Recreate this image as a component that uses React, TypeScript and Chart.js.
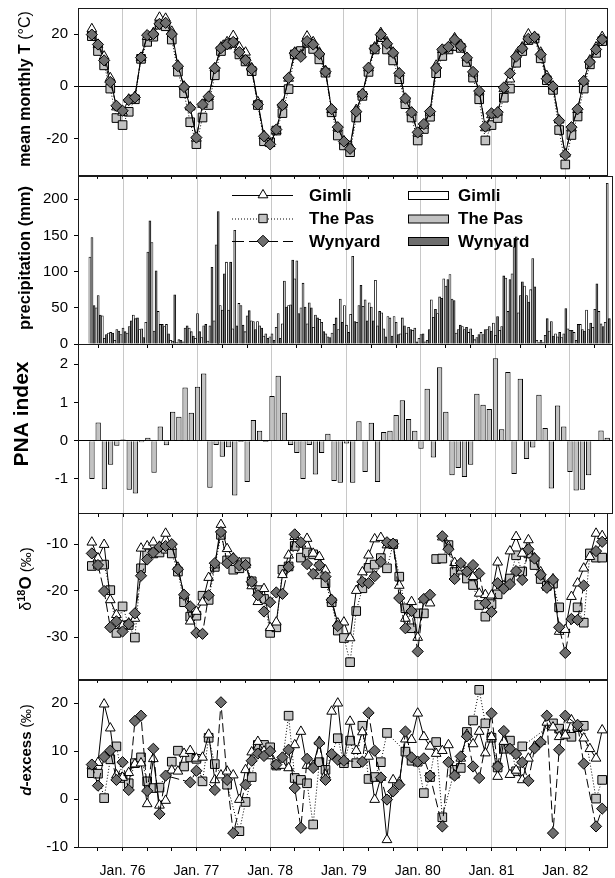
import React, { useEffect, useRef } from 'react';
import { Chart, registerables } from 'chart.js';

Chart.register(...registerables);

const FONT = '"Liberation Sans", Arial, Helvetica, sans-serif';
const GRID_COLOR = '#c8c8c8';

// months are counted from Jan 1976 (= 0); the series start in Aug 1975
const FIRST_MONTH = -5;
const X_MIN = -7.25;
const X_MAX = 78.93;
const X_TICKS = [-4, 0, 4, 8, 12, 16, 20, 24, 28, 32, 36, 40, 44, 48, 52, 56, 60, 64, 68, 72, 76];
const YEAR_LABELS = ['Jan. 76', 'Jan. 77', 'Jan. 78', 'Jan. 79', 'Jan. 80', 'Jan. 81', 'Jan. 82'];
const STATIONS = ['Gimli', 'The Pas', 'Wynyard'];

// ---- mean monthly temperature (°C) ----
const TEMP_GIMLI = [22, 16, 11.5, 3.2, -8,
  -10, -5, -4, 11, 19, 20.5, 26.4, 26, 21, 8, 0, -8,
  -20, -7, -4, 7, 15, 17, 19.4, 15, 13, 7, -6, -19,
  -22, -17, -7, 3, 13, 12, 19.2, 17, 13, 6, -9, -16,
  -21, -23, -9, -3, 7, 15, 20.5, 17, 13, 5, -5, -10,
  -18, -15, -10, 8, 14, 15, 18.5, 16, 11, 5, -2, -16,
  -11, -10, -1, 2.7, 12, 15, 20, 19, 13, 4, 0, -13,
  -26, -16, -9, 2, 10, 15, 19];
const TEMP_THEPAS = [19.2, 13.5, 8, -0.9, -12.2,
  -14.9, -9.8, -5, 10.5, 17, 19, 23.6, 23, 17.9, 5.6, -2.7, -13.8,
  -22.2, -12, -7.2, 4.2, 13.5, 16, 16.6, 12.2, 9.5, 5.8, -7.2, -21.1,
  -21.5, -17, -10.3, -1.1, 12.2, 13.5, 16.6, 14.3, 10.3, 5.2, -10, -18.9,
  -22.7, -25.3, -12, -3.7, 5.5, 14.1, 18.8, 14.1, 9.9, 2.7, -6.9, -12,
  -20.8, -16.4, -11.7, 5, 11.6, 14.1, 15.4, 14.7, 9.3, 3.3, -5, -20.8,
  -14.9, -12.2, -4.4, -0.9, 9, 13.5, 17.7, 18.3, 10.7, 2.3, -1.4, -16.8,
  -30, -18.7, -11.6, -0.9, 8.4, 12.8, 17.3];
const TEMP_WYNYARD = [19.8, 16, 9.9, 1.6, -7.5,
  -9.4, -5.3, -4.3, 11, 19.6, 20, 23.9, 24.3, 20, 7.7, -0.3, -8.3,
  -19.7, -7, -4, 6.9, 14.6, 16.1, 17, 13.1, 10, 6.6, -7, -19.2,
  -22.3, -16.6, -7.2, 3.2, 12.7, 11.3, 17.3, 16, 12.4, 5.6, -8.8, -15.7,
  -21.2, -24, -9.7, -3, 7.1, 14.5, 19.8, 16.3, 12.8, 5, -4.7, -10,
  -17.7, -14.5, -9.7, 7, 14.1, 15.1, 17.9, 15.4, 10.9, 5.5, -1.9, -15.5,
  -10.4, -10, -0.5, 4.9, 11.3, 14.5, 18.2, 18.9, 12.2, 2.9, -0.1, -13.2,
  -26.3, -15.7, -8.8, 2, 9.3, 14.1, 17.9];

// ---- monthly precipitation (mm) ----
const PRECIP_GIMLI = [120, 50, 39, 15, 5,
  13, 15, 40, 20, 30, 140, 45, 24, 5, 2, 3, 22,
  8, 9, 4, 32, 53, 113, 21, 56, 17, 32, 31, 11,
  10, 23, 28, 53, 90, 50, 28, 23, 34, 14, 15, 20,
  53, 41, 30, 52, 57, 88, 43, 38, 38, 14, 15, 19,
  8, 3, 61, 42, 90, 96, 15, 24, 16, 6, 16, 20,
  29, 19, 91, 97, 43, 80, 75, 5, 2, 18, 14, 9,
  21, 16, 27, 47, 23, 45, 30];
const PRECIP_THEPAS = [147, 67, 8, 16, 20,
  22, 24, 35, 21, 127, 18, 27, 27, 4, 6, 22, 17,
  42, 25, 25, 137, 47, 47, 157, 53, 39, 31, 25, 14,
  14, 42, 87, 54, 115, 84, 57, 40, 30, 10, 27, 62,
  26, 121, 53, 61, 51, 25, 21, 36, 30, 36, 23, 22,
  13, 5, 37, 65, 80, 62, 20, 20, 21, 9, 13, 24,
  12, 24, 45, 134, 67, 67, 118, 2, 12, 31, 10, 14,
  19, 5, 20, 20, 48, 28, 222];
const PRECIP_WYNYARD = [53, 40, 13, 15, 18,
  17, 32, 36, 9, 170, 101, 27, 14, 68, 5, 25, 11,
  17, 27, 106, 183, 97, 113, 25, 26, 46, 20, 22, 8,
  5, 8, 51, 116, 42, 51, 50, 36, 17, 9, 36, 30,
  16, 31, 81, 32, 32, 45, 10, 11, 13, 25, 20, 3,
  14, 20, 48, 63, 89, 60, 26, 23, 12, 13, 20, 18,
  38, 94, 89, 148, 86, 58, 79, 5, 35, 11, 16, 49,
  19, 27, 18, 29, 83, 24, 35];

// ---- PNA index ----
const PNA_INDEX = [-1.0, 0.48, -1.27, -0.63, -0.13,
  0.03, -1.28, -1.38, -0.04, 0.08, -0.84, 0.37, -0.12, 0.76, 0.63, 1.39, 0.73,
  1.41, 1.76, -1.23, -0.11, -0.42, -0.17, -1.43, -0.03, -1.08, 0.54, 0.26, -0.03,
  1.17, 1.7, 0.73, -0.11, -0.32, -1.0, -0.11, -0.88, -0.32, 0.18, -1.05, -1.1,
  -0.07, -1.1, 0.51, -0.82, 0.47, -1.08, 0.23, 0.26, 0.67, 1.06, 0.57, 0.26,
  -0.21, 1.36, -0.44, 1.92, 0.76, -0.9, -0.71, -0.95, -0.63, 1.23, 0.94, 0.83,
  2.16, 0.3, 1.8, -0.87, 1.62, -0.48, -0.18, 1.2, 0.33, -1.25, 0.92, 0.37,
  -0.82, -1.3, -1.28, -0.9, null, 0.27, 0.08];

// ---- delta 18O of precipitation (‰) ----
const D18O_GIMLI = [-9.6, -13, -10.1, -22, -25.2,
  -27.5, -27, -26, -10.9, -10.4, -9.6, -10.5, -7.7, -10.5, -15, -21, -26.6,
  -24.5, -22.5, -17.2, -14.5, -5.8, -11, -13, -14, -14.5, -19, -22.4, -19.6,
  -28, -26.8, -16.6, -12.4, -8.4, -10, -8.8, -12, -12.7, -15.6, -22, -27,
  -26.8, -30.2, -20, -16, -12.4, -8.9, -8.6, -10.2, -10, -18.9, -26, -22.4,
  -30.1, -22, -22.7, null, -8.5, -10.5, -14, -15, -16, -17, -20.6, -20.9,
  -21, -13.9, -19, -11.5, -8.4, -12, -9.1, -13, -16, -19, -17.5, -28.8,
  -28.4, -21.3, -18.4, -15.2, -12.7, -7.7, -8.2];
const D18O_THEPAS = [-14.7, -14.4, -14.4, -19.9, -29.1,
  -23.4, -27.4, -30.1, -15.2, -12, -12, -11.8, -11, -12, -15.9, -22.5, -25.6,
  -25.4, -21.1, -22, -14.9, -8, -13.5, -15.5, -15.2, -13.9, -18, -19.9, -21.8,
  -29.1, -27.9, -15.5, -14.8, -10.4, -12.9, -11.8, -12.2, -16.5, -18.4, -22.5, -28.6,
  -30.2, -35.4, -24.4, -19.5, -15.1, -14.4, -13, -15.2, -10, -17, -23.8, -28.1,
  -24.9, -24.9, null, -13.2, -13.1, -10.2, -16, -15.5, -17.4, -18.8, -23.1, -25.6,
  -22.9, -20.8, -19, -17.4, -12.4, -15.9, -12, -14.5, -17.5, -19, -18.5, -23.6,
  null, null, -23.6, -26.9, -12, -12.9, -12.9];
const D18O_WYNYARD = [-12, -14.5, -20.1, -27.9, -26.6,
  -28.8, -27.2, -24.9, -16.8, -13.3, -11.8, -10.6, -10.4, -10, -15.4, -20.9, -23.4,
  -29.1, -29.3, -21, -14.1, -7.4, -14.1, -13.1, -14.6, -14.5, -18.1, -21, -24.5,
  -22.5, -20.4, -20.7, -14.9, -7.9, -9.6, -14.3, -16.4, -14.5, -17, -22, -27.6,
  null, null, null, -18.1, -18.4, -16.9, -13.8, -9.6, -9.9, -21.6, -28.1, -24.4,
  -33.1, -21.8, -20.9, null, -8.3, -11.1, -17.5, -14.1, -15.9, -14.5, -16.3, -22.7,
  -24.6, -18.4, -19.6, -18.6, -15.8, -17.7, -11.1, -13.1, -16.6, -19.4, -17.7, -27.9,
  -33.4, -26.1, -26.3, -18.9, null, -11.5, -9.5];

// ---- deuterium excess (‰) ----
const DEX_GIMLI = [7, 7.6, 19.8, 14.8, 5,
  4.5, 5.5, 7.3, 7.5, -1, 8.4, -1.3, -0.3, 6, 5.8, 9.5, 10.1,
  8.5, 8.7, 13.5, 4, 5, 5.8, 5, -0.1, 6.1, 9.8, 12, 10,
  9, 7, 7, 6.5, 11.3, 14.1, 7, 7, 12, 5, 18.3, 20,
  8, 16.2, 10.1, 14, 8.9, -0.1, 4.5, -8.5, 4, 3.5, 12.5, 12.4,
  17.9, 13, 11, 9.5, 10.1, 11.3, 5, 8.5, 13.5, 11.5, 14.1, 9.6,
  13, 4.7, 12, 5.1, 6, 4, 8.5, 11, 12, 16, 15, 13,
  13.3, 16.5, 15, 12.7, 10.5, 8.5, 14.4];
const DEX_THEPAS = [5.4, 5.3, 0.2, 8.3, 11,
  4.4, 3.3, 7.5, 8.7, 3.7, 2.3, 2.4, null, 7.8, 10.1, 6.8, 8.7,
  8.4, 3.7, 12.8, 7.3, null, 3, null, -6.7, -0.6, 4.6, 11.3, 11.3,
  10.8, 7, 8, 17.4, 4.4, 4, 3.3, -5.3, 7.7, 6.1, null, 12.7,
  7.5, 12.2, 7.5, 15.3, 4.2, 4.6, 7.7, 13.8, null, null, 9.9, 8,
  7.8, 1.25, 4.6, 11.9, -3.8, null, 6.1, 6.5, 14, 16.4, 22.8, 15.8,
  12.8, 6.6, 10.5, 12.2, 5.8, 11, null, null, null, null, 15.8, 14.7,
  13.5, 13, 15, 15.3, null, 0.1, 4];
const DEX_WYNYARD = [7.2, 2.8, 8.8, 10.1, 4,
  7.7, 1.9, 16.3, 17.4, 1.7, 10.5, -3.1, 4.9, null, null, null, 3.5,
  5.9, null, null, 1.9, 20.2, 4, -7.1, null, 3, 8, 9.5, 9,
  10, 7.2, 8.7, 10.3, 2.3, -6, 8.4, 6.5, 11.7, 4, 9.4, 8.2,
  8, null, null, 7.8, 18, 10.1, 4.5, -0.1, 1.6, 3, 14.1, 8.7,
  7.8, 8.5, 4.9, null, -5.7, 7.7, 4.9, 8.9, 13.1, 6.8, 4.4, null,
  17.9, 6.8, 14.2, 10.5, 9.4, 7.7, 3.8, 10.6, 11.9, 17.4, -7.1, 10.3,
  17.4, null, 15.5, 7.4, null, -5.7, -2];

// ---- layout (page pixels) ----
const PANELS = [
  { top: 8, bottom: 176, canvasTop: 0, axisH: 6 },
  { top: 176, bottom: 344, canvasTop: 168, axisH: 6 },
  { top: 344, bottom: 513, canvasTop: 336, axisH: 6 },
  { top: 513, bottom: 680, canvasTop: 505, axisH: 6 },
  { top: 680, bottom: 847, canvasTop: 672, axisH: 31 },
];

const toPoints = (vals: (number | null)[]) => vals.map((y, i) => ({ x: FIRST_MONTH + i, y }));

const LINE_STYLE: any = {
  G: { borderDash: [], pointStyle: 'triangle', pointRadius: 5.6, pointBackgroundColor: '#ffffff' },
  P: { borderDash: [1, 2], pointStyle: 'rect', pointRadius: 6.1, pointBackgroundColor: '#c2c2c2' },
  W: { borderDash: [9, 4], pointStyle: 'rectRot', pointRadius: 5.6, pointBackgroundColor: '#6e6e6e' },
};
const BAR_COLORS = ['#ffffff', '#c2c2c2', '#6e6e6e'];

function lineDS(label: string, vals: (number | null)[], key: string, spanGaps: boolean) {
  return {
    type: 'line', label, data: toPoints(vals), borderColor: '#000', borderWidth: 1,
    pointBorderColor: '#000', pointBorderWidth: 1, tension: 0, fill: false, spanGaps,
    ...LINE_STYLE[key],
  };
}

function xScale(showLabels: boolean, axisH: number) {
  return {
    type: 'linear', min: X_MIN, max: X_MAX, offset: false,
    afterBuildTicks: (s: any) => { s.ticks = X_TICKS.map((v) => ({ value: v })); },
    afterFit: (s: any) => { s.height = axisH; s.paddingLeft = 0; s.paddingRight = 0; s.paddingTop = 0; s.paddingBottom = 0; },
    grid: {
      offset: false, drawOnChartArea: true, drawTicks: true, tickLength: 4, lineWidth: 1,
      color: (c: any) => (c.tick && c.tick.value % 12 === 0 ? GRID_COLOR : 'rgba(0,0,0,0)'),
      tickColor: '#000',
    },
    border: { display: false },
    ticks: {
      display: showLabels, autoSkip: false, maxRotation: 0, minRotation: 0, padding: 12, color: '#000',
      font: { family: FONT, size: 14 },
      callback: (v: number) => (v % 12 === 0 ? YEAR_LABELS[v / 12] : ''),
    },
  };
}

function yScale(min: number, max: number, ticks: number[], zeroLine: boolean) {
  return {
    type: 'linear', min, max,
    afterBuildTicks: (s: any) => { s.ticks = ticks.map((v) => ({ value: v })); },
    afterFit: (s: any) => { s.width = 78; s.paddingTop = 0; s.paddingBottom = 0; s.paddingLeft = 0; s.paddingRight = 0; },
    grid: {
      drawOnChartArea: zeroLine, drawTicks: true, tickLength: 4, lineWidth: 1,
      color: (c: any) => (c.tick && c.tick.value === 0 ? '#000' : 'rgba(0,0,0,0)'),
      tickColor: '#000',
    },
    border: { display: false },
    ticks: { padding: 6, color: '#000', font: { family: FONT, size: 15 }, callback: (v: number) => String(v) },
  };
}

const framePlugin = {
  id: 'frame',
  afterDraw(chart: any) {
    const { ctx, chartArea: a } = chart;
    ctx.save();
    ctx.strokeStyle = '#1a1a1a';
    ctx.lineWidth = 1;
    ctx.setLineDash([]);
    const l = Math.round(a.left) + 0.5, t = Math.round(a.top) + 0.5;
    const r = Math.round(a.right) - 0.5, b = Math.round(a.bottom) + 0.5;
    ctx.strokeRect(l, t, r - l, b - t);
    ctx.restore();
  },
};

type Seg = { text: string; font: string; dy?: number };
function titlePlugin(segs: Seg[], cx: number, cy: number, canvasTop: number, base: number) {
  return {
    id: 'ytitle',
    afterDraw(chart: any) {
      const ctx = chart.ctx;
      ctx.save();
      ctx.translate(cx, cy - canvasTop);
      ctx.rotate(-Math.PI / 2);
      ctx.fillStyle = '#000';
      ctx.textBaseline = 'alphabetic';
      ctx.textAlign = 'left';
      const widths = segs.map((s) => { ctx.font = s.font; return ctx.measureText(s.text).width; });
      const total = widths.reduce((p, w) => p + w, 0);
      let u = -total / 2;
      segs.forEach((s, i) => { ctx.font = s.font; ctx.fillText(s.text, u, base + (s.dy || 0)); u += widths[i]; });
      ctx.restore();
    },
  };
}

function drawMarker(ctx: any, shape: string, x: number, y: number, fill: string) {
  ctx.beginPath();
  if (shape === 'triangle') {
    const r = 5.6;
    ctx.moveTo(x, y - r); ctx.lineTo(x + r * 0.866, y + r * 0.5); ctx.lineTo(x - r * 0.866, y + r * 0.5); ctx.closePath();
  } else if (shape === 'rect') {
    const h = 4.2;
    ctx.rect(x - h, y - h, 2 * h, 2 * h);
  } else {
    const r = 5.8;
    ctx.moveTo(x, y - r); ctx.lineTo(x + r, y); ctx.lineTo(x, y + r); ctx.lineTo(x - r, y); ctx.closePath();
  }
  ctx.setLineDash([]);
  ctx.fillStyle = fill; ctx.fill();
  ctx.strokeStyle = '#000'; ctx.lineWidth = 1; ctx.stroke();
}

function legendPlugin(canvasTop: number) {
  const rowsY = [195, 218.5, 241];
  const keys = ['G', 'P', 'W'];
  const dashes = [[], [1, 2], [12, 5]];
  return {
    id: 'dualLegend',
    afterDraw(chart: any) {
      const ctx = chart.ctx;
      ctx.save();
      STATIONS.forEach((name, i) => {
        const y = rowsY[i] - canvasTop;
        ctx.strokeStyle = '#000'; ctx.lineWidth = 1; ctx.setLineDash(dashes[i]);
        ctx.beginPath(); ctx.moveTo(232, y + 0.5); ctx.lineTo(293, y + 0.5); ctx.stroke();
        const st = LINE_STYLE[keys[i]];
        drawMarker(ctx, st.pointStyle, 263, y, st.pointBackgroundColor);
        ctx.fillStyle = '#000';
        ctx.font = 'bold 17px ' + FONT;
        ctx.textBaseline = 'middle'; ctx.textAlign = 'left';
        ctx.fillText(name, 309, y + 1);
        ctx.setLineDash([]);
        ctx.fillStyle = BAR_COLORS[i];
        ctx.fillRect(408.5, y - 3.5, 40, 8);
        ctx.strokeStyle = '#000';
        ctx.strokeRect(408.5, y - 3.5, 40, 8);
        ctx.fillStyle = '#000';
        ctx.fillText(name, 458, y + 1);
      });
      ctx.restore();
    },
  };
}

function baseOptions(p: any, scales: any) {
  return {
    animation: false, responsive: false, maintainAspectRatio: false, events: [],
    layout: { padding: { left: 0, right: 2, top: p.top - p.canvasTop, bottom: 0 } },
    plugins: { legend: { display: false }, tooltip: { enabled: false }, title: { display: false } },
    scales,
  };
}

function buildConfigs() {
  const bold = (s: number) => `bold ${s}px ${FONT}`;
  const reg = (s: number) => `${s}px ${FONT}`;
  const P = PANELS;
  return [
    {
      type: 'line',
      data: {
        datasets: [
          lineDS('Wynyard', TEMP_WYNYARD, 'W', false),
          lineDS('Gimli', TEMP_GIMLI, 'G', false),
          lineDS('The Pas', TEMP_THEPAS, 'P', false),
        ],
      },
      options: baseOptions(P[0], { x: xScale(false, P[0].axisH), y: yScale(-34, 30, [-20, 0, 20], true) }),
      plugins: [framePlugin, titlePlugin([{ text: 'mean monthly T ', font: bold(16) }, { text: '(°C)', font: reg(16) }], 24, 89, P[0].canvasTop, 5.5)],
    },
    {
      type: 'bar',
      data: {
        datasets: [PRECIP_GIMLI, PRECIP_THEPAS, PRECIP_WYNYARD].map((vals, i) => ({
          label: STATIONS[i], data: toPoints(vals), backgroundColor: BAR_COLORS[i], borderColor: '#000',
          borderWidth: 0.8, categoryPercentage: 1, barPercentage: 1, borderSkipped: 'start',
        })),
      },
      options: baseOptions(P[1], { x: xScale(false, P[1].axisH), y: yScale(0, 232, [0, 50, 100, 150, 200], false) }),
      plugins: [framePlugin, titlePlugin([{ text: 'precipitation (mm)', font: bold(16.5) }], 24.5, 258, P[1].canvasTop, 5.5), legendPlugin(P[1].canvasTop)],
    },
    {
      type: 'bar',
      data: {
        datasets: [{
          label: 'PNA index', data: toPoints(PNA_INDEX), backgroundColor: '#c2c2c2', borderColor: '#000',
          borderWidth: 1, categoryPercentage: 1, barPercentage: 0.86, borderSkipped: 'start',
        }],
      },
      options: baseOptions(P[2], { x: xScale(false, P[2].axisH), y: yScale(-1.89, 2.53, [-1, 0, 1, 2], true) }),
      plugins: [framePlugin, titlePlugin([{ text: 'PNA index', font: bold(21) }], 20.5, 414, P[2].canvasTop, 7.5)],
    },
    {
      type: 'line',
      data: {
        datasets: [
          lineDS('Wynyard', D18O_WYNYARD, 'W', false),
          lineDS('Gimli', D18O_GIMLI, 'G', false),
          lineDS('The Pas', D18O_THEPAS, 'P', false),
        ],
      },
      options: baseOptions(P[3], { x: xScale(false, P[3].axisH), y: yScale(-39, -3.3, [-30, -20, -10], false) }),
      plugins: [framePlugin, titlePlugin([
        { text: 'δ', font: reg(16) },
        { text: '18', font: bold(11), dy: -6 },
        { text: 'O', font: bold(17) },
        { text: ' (‰)', font: reg(15) },
      ], 25.5, 579, P[3].canvasTop, 5.8)],
    },
    {
      type: 'line',
      data: {
        datasets: [
          lineDS('Wynyard', DEX_WYNYARD, 'W', true),
          lineDS('Gimli', DEX_GIMLI, 'G', true),
          lineDS('The Pas', DEX_THEPAS, 'P', true),
        ],
      },
      options: baseOptions(P[4], { x: xScale(true, P[4].axisH), y: yScale(-10, 24.85, [-10, 0, 10, 20], false) }),
      plugins: [framePlugin, titlePlugin([
        { text: 'd', font: `italic bold 15px ${FONT}` },
        { text: '-excess', font: bold(15) },
        { text: ' (‰)', font: reg(14) },
      ], 25.5, 750, P[4].canvasTop, 5.3)],
    },
  ];
}

export default function App() {
  const canvases = useRef<(HTMLCanvasElement | null)[]>([]);
  useEffect(() => {
    const configs = buildConfigs();
    const charts = configs.map((cfg, i) => new Chart(canvases.current[i] as HTMLCanvasElement, cfg as any));
    return () => charts.forEach((c) => c.destroy());
  }, []);
  return (
    <div style={{ position: 'absolute', left: 0, top: 0, width: 615, height: 878, background: '#fff', overflow: 'hidden' }}>
      {PANELS.map((p, i) => {
        const h = p.bottom + p.axisH - p.canvasTop;
        return (
          <canvas
            key={i}
            ref={(el) => { canvases.current[i] = el; }}
            width={615}
            height={h}
            style={{ position: 'absolute', left: 0, top: p.canvasTop, width: 615, height: h }}
          />
        );
      })}
    </div>
  );
}
